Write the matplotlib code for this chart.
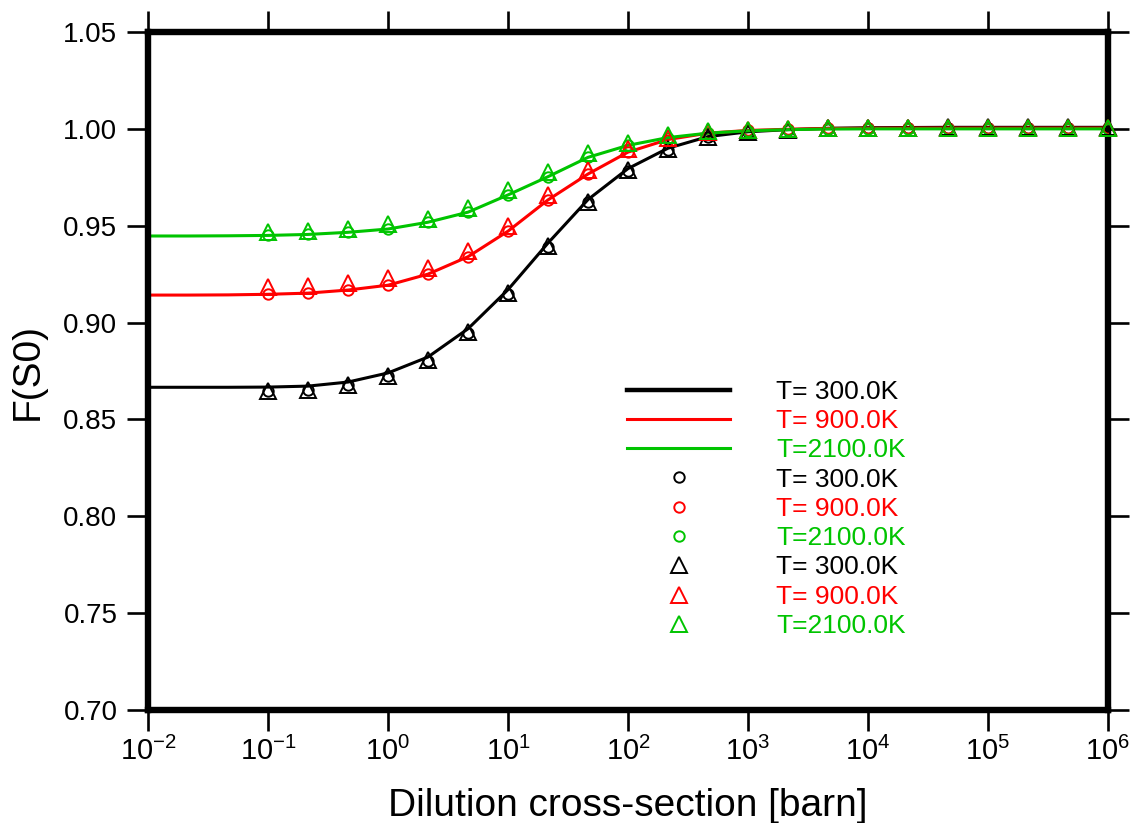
import matplotlib
matplotlib.use("Agg")
import matplotlib.pyplot as plt
from matplotlib.ticker import FixedLocator, FixedFormatter

plt.rcParams['font.family'] = ['Liberation Sans', 'DejaVu Sans']
plt.rcParams['mathtext.default'] = 'regular'

# dilution points (3 per decade)
x_line = [0.01, 0.0215, 0.0464, 0.1, 0.215, 0.464, 1, 2.15, 4.64, 10, 21.5, 46.4,
          100, 215, 464, 1e3, 2.15e3, 4.64e3, 1e4, 2.15e4, 4.64e4, 1e5, 2.15e5, 4.64e5, 1e6]
x_pts = x_line[3:]

temps = ["T= 300.0K", "T= 900.0K", "T=2100.0K"]
colors = ["#000000", "#FF0000", "#00C400"]

# continuous curves
line_300 = [0.8666, 0.8666, 0.8666, 0.8667, 0.8672, 0.8693, 0.8740, 0.8822, 0.8968, 0.9170,
            0.9410, 0.9635, 0.9795, 0.9900, 0.9960, 0.9985, 0.9996, 1.0003, 1.0006, 1.0007,
            1.0008, 1.0008, 1.0008, 1.0008, 1.0008]
line_900 = [0.9142, 0.9142, 0.9143, 0.9146, 0.9152, 0.9168, 0.9193, 0.9250, 0.9340, 0.9472,
            0.9633, 0.9767, 0.9880, 0.9945, 0.9978, 0.9992, 0.9998, 1.0002, 1.0003, 1.0004,
            1.0004, 1.0004, 1.0004, 1.0004, 1.0004]
line_2100 = [0.9447, 0.9447, 0.9448, 0.9450, 0.9455, 0.9466, 0.9483, 0.9518, 0.9570, 0.9659,
             0.9753, 0.9853, 0.9915, 0.9955, 0.9978, 0.9990, 0.9996, 0.9999, 1.0000, 1.0000,
             1.0000, 1.0000, 1.0000, 1.0000, 1.0000]

# circle markers
circ_300 = [0.8645, 0.8650, 0.8676, 0.8722, 0.8803, 0.8948, 0.9150, 0.9391, 0.9620, 0.9784,
            0.9893, 0.9956, 0.9983, 0.9994, 1.0001, 1.0004, 1.0005, 1.0006, 1.0006, 1.0006,
            1.0006, 1.0006]
circ_900 = [0.9146, 0.9152, 0.9168, 0.9193, 0.9250, 0.9340, 0.9472, 0.9633, 0.9767, 0.9880,
            0.9945, 0.9978, 0.9992, 0.9998, 1.0002, 1.0003, 1.0004, 1.0004, 1.0004, 1.0004,
            1.0004, 1.0004]
circ_2100 = [0.9450, 0.9455, 0.9466, 0.9483, 0.9518, 0.9570, 0.9659, 0.9753, 0.9853, 0.9915,
             0.9955, 0.9978, 0.9990, 0.9996, 0.9999, 1.0000, 1.0000, 1.0000, 1.0000, 1.0000,
             1.0000, 1.0000]

# triangle markers
tri_300 = [0.8647, 0.8652, 0.8678, 0.8724, 0.8805, 0.8950, 0.9152, 0.9393, 0.9622, 0.9786,
           0.9895, 0.9958, 0.9985, 0.9996, 1.0003, 1.0006, 1.0007, 1.0008, 1.0008, 1.0008,
           1.0008, 1.0008]
tri_900 = [0.9182, 0.9189, 0.9203, 0.9229, 0.9282, 0.9372, 0.9498, 0.9658, 0.9790, 0.9895,
           0.9955, 0.9982, 0.9994, 0.9999, 1.0002, 1.0003, 1.0004, 1.0004, 1.0004, 1.0004,
           1.0004, 1.0004]
tri_2100 = [0.9468, 0.9473, 0.9483, 0.9508, 0.9535, 0.9590, 0.9684, 0.9779, 0.9874, 0.9928,
            0.9966, 0.9987, 0.9995, 1.0000, 1.0002, 1.0002, 1.0002, 1.0002, 1.0002, 1.0002,
            1.0002, 1.0002]

y_ticks = [0.70, 0.75, 0.80, 0.85, 0.90, 0.95, 1.00, 1.05]
x_ticks = [1e-2, 1e-1, 1e0, 1e1, 1e2, 1e3, 1e4, 1e5, 1e6]
x_ticklabels = ["$10^{-2}$", "$10^{-1}$", "$10^{0}$", "$10^{1}$", "$10^{2}$",
                "$10^{3}$", "$10^{4}$", "$10^{5}$", "$10^{6}$"]

fig = plt.figure(figsize=(11.37, 8.23), dpi=100)
ax = fig.add_axes([0.1302, 0.1373, 0.8443, 0.8238])

handles = []
for ys, c in zip([line_300, line_900, line_2100], colors):
    h, = ax.plot(x_line, ys, color=c, lw=2.2, zorder=2)
    handles.append(h)
for ys, c in zip([circ_300, circ_900, circ_2100], colors):
    h, = ax.plot(x_pts, ys, ls='none', marker='o', ms=7.5, mfc='none', mec=c, mew=1.4, zorder=3)
    handles.append(h)
for ys, c in zip([tri_300, tri_900, tri_2100], colors):
    h, = ax.plot(x_pts, ys, ls='none', marker='^', ms=11, mfc='none', mec=c, mew=1.4, zorder=4,
                 clip_on=False)
    handles.append(h)

ax.set_xscale('log')
ax.set_xlim(1e-2, 1e6)
ax.set_ylim(0.70, 1.05)
ax.xaxis.set_major_locator(FixedLocator(x_ticks))
ax.xaxis.set_major_formatter(FixedFormatter(x_ticklabels))
ax.xaxis.set_minor_locator(FixedLocator([]))
ax.set_yticks(y_ticks)
ax.set_yticklabels([f"{v:.2f}" for v in y_ticks])

for s in ax.spines.values():
    s.set_linewidth(4.6)
ax.tick_params(which='major', direction='out', length=15, width=1.9,
               top=True, right=True)
ax.tick_params(axis='y', labelsize=20, pad=7)
ax.tick_params(axis='x', labelsize=21, pad=4)

ax.set_xlabel("Dilution cross-section [barn]", fontsize=28, labelpad=16)
ax.set_ylabel("F(S0)", fontsize=28, labelpad=13)

leg = ax.legend(handles, temps * 3, loc='upper left', bbox_to_anchor=(0.499, 0.487),
                frameon=False, fontsize=19, handlelength=3.9, handletextpad=1.75,
                labelspacing=0.2, borderpad=0, borderaxespad=0, numpoints=1)
for t, c in zip(leg.get_texts(), colors * 3):
    t.set_color(c)
leg.get_lines()[0].set_linewidth(3.2)

fig.savefig("out.png", dpi=100)
